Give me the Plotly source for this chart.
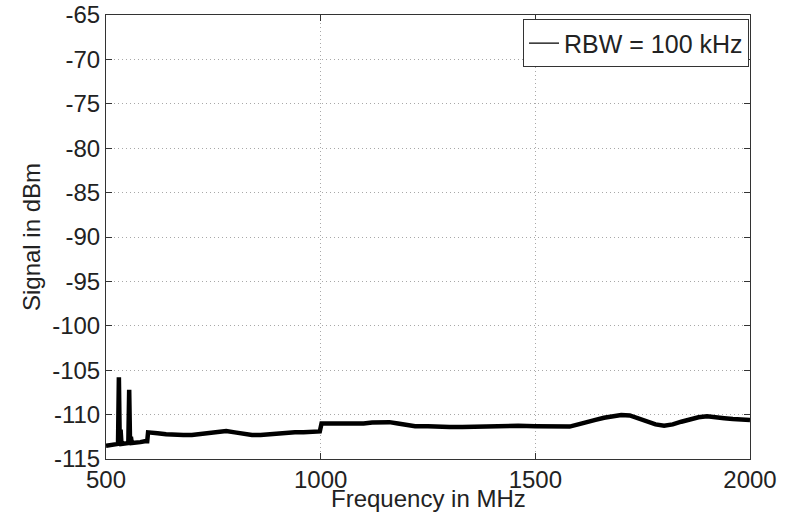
import plotly.graph_objects as go

# Spectrum trace (RBW = 100 kHz)
freq_mhz = [
    500, 510, 520, 526, 528, 530, 532, 534, 536, 545, 552, 554, 556, 558, 560,
    570, 580, 590, 596, 598, 605, 620, 640, 660, 680, 700, 720, 740, 760, 780,
    800, 820, 840, 860, 880, 900, 920, 940, 960, 980, 998, 1002, 1020, 1040,
    1060, 1080, 1100, 1120, 1140, 1160, 1180, 1200, 1220, 1250, 1280, 1300,
    1330, 1360, 1400, 1430, 1460, 1500, 1530, 1560, 1580, 1600, 1620, 1640,
    1660, 1680, 1700, 1720, 1740, 1760, 1780, 1800, 1820, 1840, 1860, 1880,
    1900, 1920, 1940, 1960, 1980, 2000,
]
signal_dbm = [
    -113.5, -113.4, -113.4, -113.3, -113.3, -105.8, -113.2, -111.7, -113.3,
    -113.3, -113.2, -107.2, -113.2, -112.5, -113.2,
    -113.2, -113.1, -113.0, -113.0, -112.0, -112.0, -112.1, -112.2, -112.3,
    -112.3, -112.3, -112.2, -112.1, -112.0, -111.85,
    -112.0, -112.2, -112.3, -112.3, -112.2, -112.1, -112.1, -112.0, -112.0,
    -111.95, -111.9, -111.0, -111.0, -111.1,
    -111.05, -111.1, -111.0, -110.9, -110.85, -110.85, -111.0, -111.2, -111.3,
    -111.3, -111.4, -111.4,
    -111.4, -111.35, -111.3, -111.2, -111.25, -111.3, -111.35, -111.4, -111.35,
    -111.1, -110.9, -110.6,
    -110.35, -110.2, -110.05, -110.1, -110.4, -110.8, -111.1, -111.25, -111.1,
    -110.8, -110.5, -110.3,
    -110.2, -110.25, -110.4, -110.5, -110.6, -110.6,
]

x_ticks = [500, 1000, 1500, 2000]
y_ticks = list(range(-115, -64, 5))

FONT = "Liberation Sans, Arial, sans-serif"
TXT = "#222222"

fig = go.Figure()
# measured trace (drawn thick, legend entry shown with a thin line below)
fig.add_trace(go.Scatter(
    x=freq_mhz, y=signal_dbm, mode="lines", name="RBW = 100 kHz",
    line=dict(color="black", width=4.5), showlegend=False,
))
fig.add_trace(go.Scatter(
    x=[None], y=[None], mode="lines", name="RBW = 100 kHz",
    line=dict(color="black", width=1.2), showlegend=True,
))

axis_common = dict(
    showline=True, linecolor="#333333", linewidth=1, mirror="ticks",
    ticks="inside", ticklen=6, tickcolor="#333333",
    showgrid=True, gridcolor="#a8a8a8", gridwidth=1, griddash="1px,3px",
    zeroline=False, automargin=False,
    tickfont=dict(family=FONT, size=24, color=TXT),
)

fig.update_xaxes(
    range=[500, 2000], tickvals=x_ticks, ticktext=[str(v) for v in x_ticks],
    ticklabelstandoff=-1,
    **axis_common,
)
fig.update_yaxes(
    range=[-115, -65], tickvals=y_ticks, ticktext=[str(v) for v in y_ticks],
    title=dict(text="Signal in dBm", standoff=4,
               font=dict(family=FONT, size=24, color=TXT)),
    **axis_common,
)

# x-axis title sitting on the bottom edge of the figure
fig.add_annotation(
    text="Frequency in MHz", xref="paper", yref="paper",
    x=0.5, y=-54 / 444, xanchor="center", yanchor="bottom",
    borderpad=0, showarrow=False,
    font=dict(family=FONT, size=24, color=TXT),
)

fig.update_layout(
    width=792, height=513,
    margin=dict(l=106, r=42, t=15, b=54),
    paper_bgcolor="white", plot_bgcolor="white",
    showlegend=True,
    legend=dict(
        x=0.9985, y=0.99, xanchor="right", yanchor="top",
        bgcolor="white", bordercolor="#333333", borderwidth=1,
        font=dict(family=FONT, size=25, color=TXT),
        itemwidth=30, tracegroupgap=0,
    ),
)

fig.write_html("out.html")
